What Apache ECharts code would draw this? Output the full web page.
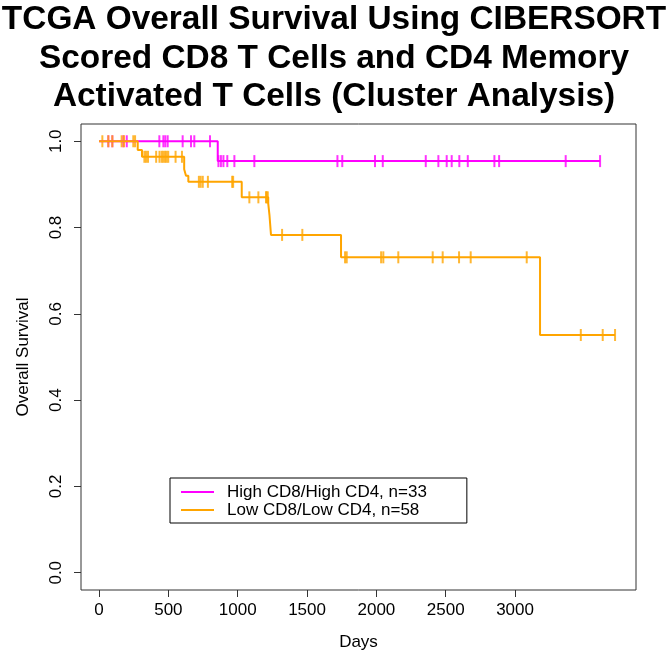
<!DOCTYPE html>
<html>
<head>
<meta charset="utf-8">
<title>TCGA Overall Survival</title>
<script src="https://cdn.jsdelivr.net/npm/echarts@6/dist/echarts.min.js"></script>
<style>
  html, body { margin: 0; padding: 0; background: #ffffff; }
  #main { width: 668px; height: 656px; }
</style>
</head>
<body>
<div id="main"></div>
<script>
// group names
const groupNames = ["High CD8/High CD4, n=33", "Low CD8/Low CD4, n=58"];

// Kaplan-Meier steps (day of event, survival after it), and last follow-up day
const highStepDays = [0, 856];
const highStepSurv = [1, 0.954];
const highEndDay = 3613;
const highCensorDays = [67, 96, 175, 200, 435, 464, 478, 495, 603, 663, 687, 800,
  861, 879, 897, 925, 976, 1120, 1719, 1754, 1990, 2046, 2356, 2447, 2507, 2543,
  2598, 2659, 2851, 2885, 3365, 3613];

const lowStepDays = [0, 279, 310, 614, 627, 644, 1029, 1220, 1229, 1240, 1745, 3180];
const lowStepSurv = [1, 0.980, 0.964, 0.935, 0.920, 0.906, 0.870, 0.856, 0.829, 0.783, 0.731, 0.551];
const lowEndDay = 3721;
const lowCensorDays = [24, 67, 96, 163, 180, 247, 260,
  327, 339, 353, 412, 436, 452, 463, 476, 487, 499, 552, 598,
  720, 733, 748, 785, 960, 967,
  1084, 1149, 1204, 1209, 1217,
  1320, 1466,
  1774, 1786, 2034, 2050, 2158, 2406, 2478, 2596, 2680, 3084,
  3474, 3632, 3721];

const xTicks = [0, 500, 1000, 1500, 2000, 2500, 3000];
const yTicks = [0, 0.2, 0.4, 0.6, 0.8, 1.0];

const font = "Liberation Sans, Arial, sans-serif";

function stepLine(days, surv, endDay) {
  let pts = days.map((d, i) => [d, surv[i]]);
  pts.push([endDay, surv[surv.length - 1]]);
  return pts;
}

// survival level of the curve at a given day
function survAt(days, surv, t) {
  let s = surv[0];
  for (let i = 0; i < days.length; i++) {
    if (days[i] <= t) s = surv[i];
  }
  return s;
}

function censorPoints(censor, days, surv) {
  return censor.map(t => [t, survAt(days, surv, t)]);
}

let myChart = echarts.init(document.getElementById("main"));
let option = {
  animation: false,
  backgroundColor: "#ffffff",
  title: {
    text: "TCGA Overall Survival Using CIBERSORT\nScored CD8 T Cells and CD4 Memory\nActivated T Cells (Cluster Analysis)",
    left: "center",
    top: -4,
    textStyle: {
      fontFamily: font,
      fontSize: 33.4,
      fontWeight: "bold",
      color: "#000000",
      lineHeight: 38.5
    }
  },
  legend: {
    data: groupNames,
    orient: "vertical",
    left: 170,
    top: 478,
    padding: [5, 40, 4, 11],
    itemGap: 0,
    itemWidth: 33,
    itemHeight: 2,
    icon: "rect",
    borderColor: "#000000",
    borderWidth: 1,
    textStyle: {
      fontFamily: font,
      fontSize: 17,
      lineHeight: 18,
      color: "#000000",
      padding: [0, 0, 0, 8]
    }
  },
  grid: {
    left: 81,
    top: 124,
    width: 555,
    height: 466,
    show: true,
    borderColor: "#333333",
    borderWidth: 1
  },
  xAxis: {
    type: "value",
    min: -130,
    max: 3872,
    name: "Days",
    nameLocation: "middle",
    nameGap: 44,
    nameTextStyle: { fontFamily: font, fontSize: 17, color: "#000000" },
    axisLine: { show: false, onZero: false },
    axisTick: { show: true, length: 7, customValues: xTicks, lineStyle: { color: "#333333" } },
    axisLabel: {
      customValues: xTicks,
      margin: 12,
      fontFamily: font,
      fontSize: 17,
      color: "#000000",
      formatter: v => String(v)
    },
    splitLine: { show: false }
  },
  yAxis: {
    type: "value",
    min: -0.04,
    max: 1.04,
    name: "Overall Survival",
    nameLocation: "middle",
    nameRotate: 90,
    nameGap: 49,
    nameTextStyle: { fontFamily: font, fontSize: 17, color: "#000000" },
    axisLine: { show: false, onZero: false },
    axisTick: { show: true, length: 7, customValues: yTicks, lineStyle: { color: "#333333" } },
    axisLabel: {
      customValues: yTicks,
      rotate: 90,
      margin: 16,
      fontFamily: font,
      fontSize: 17,
      color: "#000000",
      formatter: v => v.toFixed(1)
    },
    splitLine: { show: false }
  },
  series: [
    {
      name: groupNames[0],
      type: "line",
      step: "end",
      symbol: "none",
      color: "#ff00ff",
      lineStyle: { width: 2 },
      data: stepLine(highStepDays, highStepSurv, highEndDay)
    },
    {
      name: "highCensor",
      type: "scatter",
      symbol: "rect",
      symbolSize: [2, 12],
      itemStyle: { color: "#ff00ff" },
      data: censorPoints(highCensorDays, highStepDays, highStepSurv)
    },
    {
      name: groupNames[1],
      type: "line",
      step: "end",
      symbol: "none",
      color: "#ffa500",
      lineStyle: { width: 2 },
      data: stepLine(lowStepDays, lowStepSurv, lowEndDay)
    },
    {
      name: "lowCensor",
      type: "scatter",
      symbol: "rect",
      symbolSize: [2, 12],
      itemStyle: { color: "#ffa500" },
      data: censorPoints(lowCensorDays, lowStepDays, lowStepSurv)
    }
  ]
};
myChart.setOption(option);
</script>
</body>
</html>
